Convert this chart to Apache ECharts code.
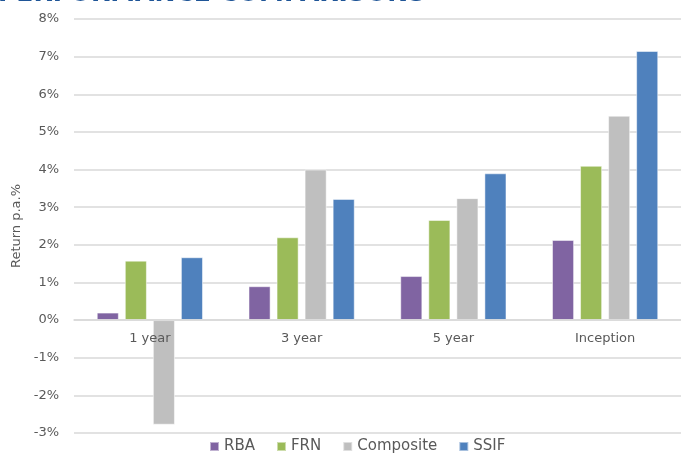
<!DOCTYPE html>
<html>
<head>
<meta charset="utf-8">
<script src="https://cdn.jsdelivr.net/npm/echarts@6/dist/echarts.min.js"></script>
<style>
  html, body { margin: 0; padding: 0; background: #fff; }
  #chart { width: 681px; height: 460px; }
</style>
</head>
<body>
<div id="chart"></div>
<script>
// 数据
const categories = ['1 year', '3 year', '5 year', 'Inception']
const rba = [0.2, 0.9, 1.17, 2.13]
const frn = [1.58, 2.2, 2.66, 4.1]
const composite = [-2.78, 4.0, 3.24, 5.43]
const ssif = [1.67, 3.22, 3.9, 7.15]

const colors = ['#8064A2', '#9BBB59', '#BFBFBF', '#4F81BD']
const font = '"DejaVu Sans", Verdana, sans-serif'

const chart = echarts.init(document.getElementById('chart'))

const bar = (name, data) => ({
    name: name,
    type: 'bar',
    data: data,
    barGap: '27%',
    barCategoryGap: '30%',
    itemStyle: {
        borderColor: 'rgba(255,255,255,0.5)',
        borderWidth: 1
    }
})

const option = {
    backgroundColor: '#ffffff',
    color: colors,
    animation: false,
    // 标题（顶部被裁掉）
    title: {
        text: 'PERFORMANCE COMPARISONS',
        left: -2,
        top: -18,
        padding: 0,
        textStyle: {
            color: '#1F5597',
            fontSize: 25,
            fontWeight: 'bold',
            fontFamily: font
        }
    },
    grid: {
        top: 19,
        bottom: 27,
        left: 74,
        right: -2
    },
    legend: {
        bottom: 1,
        left: 204,
        itemWidth: 9,
        itemHeight: 9,
        itemGap: 21,
        icon: 'rect',
        textStyle: {
            color: '#595959',
            fontSize: 15,
            fontFamily: font
        }
    },
    xAxis: {
        type: 'category',
        data: categories,
        position: 'bottom',
        // 轴线放到 0% 处
        offset: -113,
        z: 5,
        axisLine: {
            onZero: false,
            lineStyle: { color: '#d9d9d9', width: 1.5 }
        },
        axisTick: { show: false },
        axisLabel: {
            color: '#595959',
            fontSize: 13,
            fontFamily: font,
            margin: 12
        }
    },
    yAxis: {
        type: 'value',
        min: -3,
        max: 8,
        interval: 1,
        name: 'Return p.a.%',
        nameLocation: 'middle',
        nameGap: 50,
        nameTextStyle: {
            color: '#595959',
            fontSize: 13,
            fontFamily: font
        },
        axisLine: { show: false },
        axisTick: { show: false },
        axisLabel: {
            formatter: '{value}%',
            color: '#595959',
            fontSize: 13,
            fontFamily: font,
            margin: 15
        },
        splitLine: {
            lineStyle: { color: '#d9d9d9', width: 1.5 }
        }
    },
    series: [
        bar('RBA', rba),
        bar('FRN', frn),
        bar('Composite', composite),
        bar('SSIF', ssif)
    ]
}

chart.setOption(option)
</script>
</body>
</html>
